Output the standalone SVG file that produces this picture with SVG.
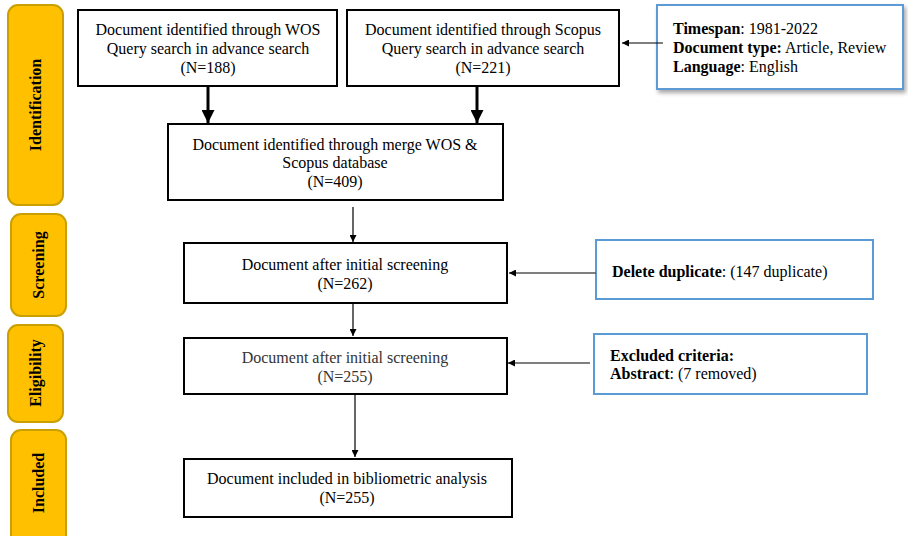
<svg xmlns="http://www.w3.org/2000/svg" width="908" height="536" viewBox="0 0 908 536">
<style>
  .phase{fill:#FFC000;stroke:#C9A000;stroke-width:2}
  .ptxt{font-family:"Liberation Serif",serif;font-weight:bold;font-size:16px;fill:#000;text-anchor:middle}
  .box{fill:#fff;stroke:#000;stroke-width:2}
  .info{fill:#fff;stroke:#5B9BD5;stroke-width:2}
  .t{font-family:"Liberation Serif",serif;font-size:16px;fill:#000;text-anchor:middle}
  .tl{font-family:"Liberation Serif",serif;font-size:16px;fill:#000}
  .b{font-weight:bold}
  .thick{stroke:#000;stroke-width:3;fill:none}
  .thin{stroke:#000;stroke-width:1.2;fill:none}
  .gray{stroke:#555;stroke-width:1.5;fill:none}
</style>
<defs>
  <marker id="ah" viewBox="0 0 10 10" refX="10" refY="5" markerWidth="7" markerHeight="7" markerUnits="userSpaceOnUse" orient="auto"><path d="M0,0 L10,5 L0,10 z" fill="#000"/></marker>
  <marker id="ahL" viewBox="0 0 10 10" refX="10" refY="5" markerWidth="14" markerHeight="13" markerUnits="userSpaceOnUse" orient="auto"><path d="M0,0 L10,5 L0,10 z" fill="#000"/></marker>
  <filter id="sh" x="-5%" y="-10%" width="115%" height="130%"><feDropShadow dx="2" dy="3" stdDeviation="2" flood-color="#000" flood-opacity="0.35"/></filter>
</defs>
<rect width="908" height="536" fill="#fff"/>

<g id="phase-identification"><rect class="phase" x="8" y="5" width="55" height="200" rx="10"/><text class="ptxt" transform="translate(41,105) rotate(-90)">Identification</text></g>
<g id="phase-screening"><rect class="phase" x="11" y="214" width="55" height="102" rx="10"/><text class="ptxt" transform="translate(44,265) rotate(-90)">Screening</text></g>
<g id="phase-eligibility"><rect class="phase" x="8" y="325" width="55" height="97" rx="10"/><text class="ptxt" transform="translate(41,373) rotate(-90)">Eligibility</text></g>
<g id="phase-included"><rect class="phase" x="11" y="430" width="55" height="115" rx="10"/><text class="ptxt" transform="translate(44,483) rotate(-90)">Included</text></g>

<g id="wos"><rect class="box" x="78" y="10" width="259" height="76"/>
<text class="t" x="208" y="35">Document identified through WOS</text>
<text class="t" x="208" y="54">Query search in advance search</text>
<text class="t" x="208" y="73">(N=188)</text></g>

<g id="scopus"><rect class="box" x="347" y="10" width="272" height="76"/>
<text class="t" x="483" y="35">Document identified through Scopus</text>
<text class="t" x="483" y="54">Query search in advance search</text>
<text class="t" x="483" y="73">(N=221)</text></g>

<g id="criteria"><rect class="info" x="657" y="5" width="246" height="84" filter="url(#sh)"/>
<text class="tl" x="673" y="34"><tspan class="b">Timespan</tspan>: 1981-2022</text>
<text class="tl" x="673" y="53"><tspan class="b">Document type:</tspan> Article, Review</text>
<text class="tl" x="673" y="72"><tspan class="b">Language</tspan>: English</text></g>

<g id="merge"><rect class="box" x="168" y="124" width="335" height="76"/>
<text class="t" x="335" y="150">Document identified through merge WOS &amp;</text>
<text class="t" x="335" y="168">Scopus database</text>
<text class="t" x="335" y="187">(N=409)</text></g>

<g id="screen"><rect class="box" x="184" y="243" width="323" height="60"/>
<text class="t" x="345" y="270">Document after initial screening</text>
<text class="t" x="345" y="289">(N=262)</text></g>

<g id="dup"><rect class="info" x="596" y="240" width="277" height="59"/>
<text class="tl" x="612" y="277"><tspan class="b">Delete duplicate</tspan>: (147 duplicate)</text></g>

<g id="elig"><rect class="box" x="184" y="338" width="323" height="56"/>
<text class="t" x="345" y="363" style="fill:#333">Document after initial screening</text>
<text class="t" x="345" y="382" style="fill:#333">(N=255)</text></g>

<g id="excl"><rect class="info" x="594" y="334" width="273" height="60"/>
<text class="tl b" x="610" y="361">Excluded criteria:</text>
<text class="tl" x="610" y="379"><tspan class="b">Abstract</tspan>: (7 removed)</text></g>

<g id="incl"><rect class="box" x="184" y="459" width="328" height="58"/>
<text class="t" x="347" y="484">Document included in bibliometric analysis</text>
<text class="t" x="347" y="503">(N=255)</text></g>

<g id="connectors">
  <line class="thick" x1="208" y1="87" x2="208" y2="123" marker-end="url(#ahL)"/>
  <line class="thick" x1="477" y1="87" x2="477" y2="123" marker-end="url(#ahL)"/>
  <line class="thin" x1="663" y1="43" x2="622" y2="43" marker-end="url(#ah)"/>
  <line class="thin" x1="353" y1="207" x2="353" y2="242" marker-end="url(#ah)"/>
  <line class="thin" x1="353" y1="304" x2="353" y2="336" marker-end="url(#ah)"/>
  <line class="thin" x1="355" y1="395" x2="355" y2="457" marker-end="url(#ah)"/>
  <line class="gray" x1="596" y1="273" x2="509" y2="273" marker-end="url(#ah)"/>
  <line class="thin" x1="590" y1="363" x2="508" y2="363" marker-end="url(#ah)"/>
</g>
</svg>
